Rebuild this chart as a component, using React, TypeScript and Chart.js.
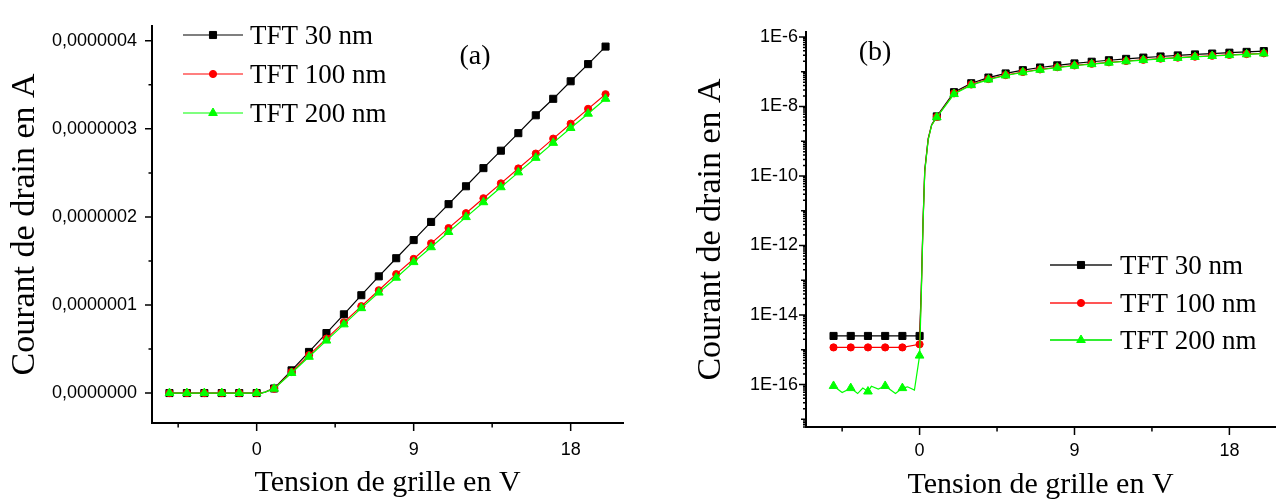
import React, { useEffect, useRef } from 'react';
import { Chart, registerables } from 'chart.js';
import { drawPoint } from 'chart.js/helpers';

Chart.register(...registerables);

const SERIF = "'Liberation Serif', 'Times New Roman', Times, serif";
const SANS = "'Liberation Sans', Arial, Helvetica, sans-serif";

// ---- data ----
const seriesNames = ['TFT 30 nm', 'TFT 100 nm', 'TFT 200 nm'];
const seriesColors = ['#000000', '#ff0000', '#00ff00'];
const seriesMarkers = ['rect', 'circle', 'triangle'];
const markerRadius = [5, 3.6, 5];

// gate voltage (V) of the marked points
const gateVoltage = [-5, -4, -3, -2, -1, 0, 1, 2, 3, 4, 5, 6, 7, 8, 9, 10, 11, 12, 13, 14, 15, 16, 17, 18, 19, 20];

// drain current (A)
const tft30Current = [
  2.5e-15, 2.5e-15, 2.5e-15, 2.5e-15, 2.5e-15, 2.5e-15,
  5.2e-9, 2.58e-8, 4.67e-8, 6.81e-8, 8.94e-8, 1.111e-7, 1.325e-7, 1.531e-7, 1.737e-7, 1.943e-7,
  2.145e-7, 2.348e-7, 2.554e-7, 2.752e-7, 2.951e-7, 3.154e-7, 3.341e-7, 3.54e-7, 3.735e-7, 3.934e-7,
];
const tft100Current = [
  1.17e-15, 1.17e-15, 1.17e-15, 1.17e-15, 1.17e-15, 1.44e-15,
  5.0e-9, 2.39e-8, 4.3e-8, 6.18e-8, 8.02e-8, 9.86e-8, 1.167e-7, 1.35e-7, 1.523e-7, 1.7e-7,
  1.873e-7, 2.042e-7, 2.212e-7, 2.381e-7, 2.55e-7, 2.719e-7, 2.889e-7, 3.058e-7, 3.227e-7, 3.393e-7,
];
const tft200Current = [
  9.1e-17, 7.9e-17, 6.3e-17, 9.1e-17, 7.9e-17, 6.8e-16,
  4.9e-9, 2.28e-8, 4.12e-8, 5.96e-8, 7.8e-8, 9.64e-8, 1.141e-7, 1.31e-7, 1.487e-7, 1.656e-7,
  1.829e-7, 1.998e-7, 2.167e-7, 2.337e-7, 2.506e-7, 2.671e-7, 2.841e-7, 3.01e-7, 3.172e-7, 3.341e-7,
];

// unmarked points of the turn-on (0..1 V)
const riseVoltage = [0.1, 0.2, 0.3, 0.5, 0.7];
const tft30Rise = [6e-14, 5e-12, 1.5e-10, 1.2e-9, 3.0e-9];
const tft100Rise = [5e-14, 4.5e-12, 1.4e-10, 1.15e-9, 2.9e-9];
const tft200Rise = [4e-14, 4e-12, 1.3e-10, 1.1e-9, 2.9e-9];

// unmarked noisy off-state points of TFT 200 nm
const tft200NoiseVoltage = [-4.5, -3.6, -3.3, -2.8, -2.4, -1.4, -0.7, -0.3];
const tft200NoiseCurrent = [5.9e-17, 5.5e-17, 7.9e-17, 8.9e-17, 7.4e-17, 5.5e-17, 8.6e-17, 6.9e-17];

// axis ticks
const xMajorTicks = [0, 9, 18];
const xMinorTicks = [-4.5, 4.5, 13.5];
const linYMajorTicks = [0, 1e-7, 2e-7, 3e-7, 4e-7];
const linYMinorTicks = [0.5e-7, 1.5e-7, 2.5e-7, 3.5e-7];
const logYLabelExponents = [-16, -14, -12, -10, -8, -6];

type Pt = { x: number; y: number; m: boolean };

function buildPoints(mainY: number[], extraX: number[][], extraY: number[][]): Pt[] {
  const pts: Pt[] = gateVoltage.map((x, i) => ({ x, y: mainY[i], m: true }));
  extraX.forEach((xs, k) => xs.forEach((x, i) => pts.push({ x, y: extraY[k][i], m: false })));
  return pts.sort((a, b) => a.x - b.x);
}

function makeDatasets() {
  const all = [
    buildPoints(tft30Current, [riseVoltage], [tft30Rise]),
    buildPoints(tft100Current, [riseVoltage], [tft100Rise]),
    buildPoints(tft200Current, [riseVoltage, tft200NoiseVoltage], [tft200Rise, tft200NoiseCurrent]),
  ];
  return all.map((data, i) => ({
    label: seriesNames[i],
    data,
    borderColor: seriesColors[i],
    backgroundColor: seriesColors[i],
    borderWidth: 1.2,
    tension: 0,
    pointStyle: seriesMarkers[i],
    pointRadius: (c: any) => (c.raw && c.raw.m ? markerRadius[i] : 0),
    pointHoverRadius: (c: any) => (c.raw && c.raw.m ? markerRadius[i] : 0),
    pointBackgroundColor: seriesColors[i],
    pointBorderColor: seriesColors[i],
    pointBorderWidth: 1,
    order: 2 - i,
    clip: false as any,
  }));
}

const decorPlugin = {
  id: 'originDecor',
  afterDraw(chart: any, _args: any, opts: any) {
    const { ctx, chartArea } = chart;
    const xs = chart.scales.x;
    const ys = chart.scales.y;
    ctx.save();
    ctx.strokeStyle = '#000';
    ctx.lineWidth = 1.5;
    ctx.beginPath();
    for (const t of opts.xTicks) {
      const p = xs.getPixelForValue(t.v);
      ctx.moveTo(p, chartArea.bottom);
      ctx.lineTo(p, chartArea.bottom + t.len);
    }
    for (const t of opts.yTicks) {
      const p = ys.getPixelForValue(t.v);
      if (p < chartArea.top - 0.5 || p > chartArea.bottom + 0.5) continue;
      ctx.moveTo(chartArea.left, p);
      ctx.lineTo(chartArea.left - t.len, p);
    }
    ctx.stroke();

    const lg = opts.legend;
    seriesNames.forEach((name: string, i: number) => {
      const y = lg.rows[i];
      ctx.strokeStyle = lg.lineColors[i];
      ctx.lineWidth = lg.lineWidth;
      ctx.beginPath();
      ctx.moveTo(lg.x1, y);
      ctx.lineTo(lg.x2, y);
      ctx.stroke();
      ctx.fillStyle = seriesColors[i];
      ctx.strokeStyle = seriesColors[i];
      ctx.lineWidth = 1;
      drawPoint(ctx, { pointStyle: seriesMarkers[i], radius: markerRadius[i], borderWidth: 1, rotation: 0 } as any, (lg.x1 + lg.x2) / 2, y);
      ctx.fillStyle = '#000';
      ctx.font = `27px ${SERIF}`;
      ctx.textBaseline = 'middle';
      ctx.textAlign = 'left';
      ctx.fillText(name, lg.textX, y + 1.5);
    });

    ctx.fillStyle = '#000';
    ctx.font = `28px ${SERIF}`;
    ctx.textAlign = 'center';
    ctx.textBaseline = 'middle';
    ctx.fillText(opts.panel.text, opts.panel.x, opts.panel.y);
    ctx.restore();
  },
};

function xScale(min: number, max: number, height: number, tickPad: number, titlePadBottom: number) {
  return {
    type: 'linear',
    min,
    max,
    afterFit(s: any) {
      s.height = height;
    },
    afterBuildTicks(s: any) {
      s.ticks = xMajorTicks.map((v) => ({ value: v }));
    },
    grid: { display: false, drawTicks: false },
    border: { display: true, color: '#000', width: 2 },
    ticks: {
      padding: tickPad,
      color: '#000',
      autoSkip: false,
      maxRotation: 0,
      font: { family: SANS, size: 18 },
      callback: (v: any) => String(v),
    },
    title: {
      display: true,
      text: 'Tension de grille en V',
      color: '#000',
      font: { family: SERIF, size: 30 },
      padding: { top: 0, bottom: titlePadBottom },
    },
  };
}

function buildConfig(kind: 'a' | 'b') {
  const isLog = kind === 'b';
  const xTicks = [
    ...xMajorTicks.map((v) => ({ v, len: 8 })),
    ...xMinorTicks.map((v) => ({ v, len: 4.5 })),
  ];
  let yTicks: { v: number; len: number }[] = [];
  if (isLog) {
    for (let e = -18; e <= -6; e++) {
      for (let k = 1; k <= 9; k++) {
        yTicks.push({ v: k * Math.pow(10, e), len: k === 1 ? (e % 2 === 0 ? 7 : 5) : 3 });
      }
    }
  } else {
    yTicks = [
      ...linYMajorTicks.map((v) => ({ v, len: 7 })),
      ...linYMinorTicks.map((v) => ({ v, len: 3.5 })),
    ];
  }

  const yTitle = {
    display: true,
    text: 'Courant de drain en A',
    color: '#000',
    font: { family: SERIF, size: 34 },
    padding: { top: isLog ? 51 : 5, bottom: 0 },
  };

  const yScale = isLog
    ? {
        type: 'logarithmic',
        min: Math.pow(10, -17.21),
        max: Math.pow(10, -5.856),
        afterFit(s: any) {
          s.width = 166;
        },
        afterBuildTicks(s: any) {
          s.ticks = logYLabelExponents.map((e) => ({ value: Math.pow(10, e) }));
        },
        grid: { display: false, drawTicks: false },
        border: { display: true, color: '#000', width: 2 },
        ticks: {
          padding: 8,
          color: '#000',
          autoSkip: false,
          font: { family: SANS, size: 18 },
          callback: (v: any) => '1E' + Math.round(Math.log10(Number(v))),
        },
        title: yTitle,
      }
    : {
        type: 'linear',
        min: -0.34e-7,
        max: 4.17e-7,
        afterFit(s: any) {
          s.width = 152;
        },
        afterBuildTicks(s: any) {
          s.ticks = linYMajorTicks.map((v) => ({ value: v }));
        },
        grid: { display: false, drawTicks: false },
        border: { display: true, color: '#000', width: 2 },
        ticks: {
          padding: 15,
          color: '#000',
          autoSkip: false,
          font: { family: SANS, size: 18 },
          callback: (v: any) => Number(v).toFixed(7).replace('.', ','),
        },
        title: yTitle,
      };

  const legend = isLog
    ? {
        rows: [265, 303, 340],
        x1: 410,
        x2: 472,
        textX: 480,
        lineWidth: 1.8,
        lineColors: ['#555555', '#ff5555', '#33ee33'],
      }
    : {
        rows: [35, 74, 113],
        x1: 183,
        x2: 243,
        textX: 250,
        lineWidth: 1.2,
        lineColors: seriesColors,
      };

  return {
    type: 'line',
    data: { datasets: makeDatasets() },
    options: {
      responsive: false,
      animation: false,
      devicePixelRatio: 1,
      events: [],
      layout: {
        padding: isLog ? { top: 32, right: 0, left: 0, bottom: 0 } : { top: 15, right: 17, left: 0, bottom: 0 },
      },
      plugins: {
        legend: { display: false },
        tooltip: { enabled: false },
        originDecor: {
          xTicks,
          yTicks,
          legend,
          panel: isLog ? { text: '(b)', x: 235, y: 52.6 } : { text: '(a)', x: 475, y: 56.6 },
        },
      },
      scales: {
        x: isLog ? xScale(-6.6, 20.65, 76, 13, 0) : xScale(-6, 21, 80, 16, 2),
        y: yScale,
      },
    },
    plugins: [decorPlugin],
  };
}

function Panel({ kind, left, width }: { kind: 'a' | 'b'; left: number; width: number }) {
  const ref = useRef<HTMLCanvasElement | null>(null);
  useEffect(() => {
    if (!ref.current) return;
    const chart = new Chart(ref.current, buildConfig(kind) as any);
    return () => chart.destroy();
  }, [kind]);
  return (
    <canvas
      ref={ref}
      width={width}
      height={503}
      style={{ position: 'absolute', left, top: 0, width, height: 503 }}
    />
  );
}

export default function App() {
  return (
    <div
      style={{
        position: 'absolute',
        left: 0,
        top: 0,
        width: 1281,
        height: 503,
        background: '#ffffff',
        overflow: 'hidden',
      }}
    >
      <Panel kind="a" left={0} width={640} />
      <Panel kind="b" left={640} width={641} />
    </div>
  );
}
